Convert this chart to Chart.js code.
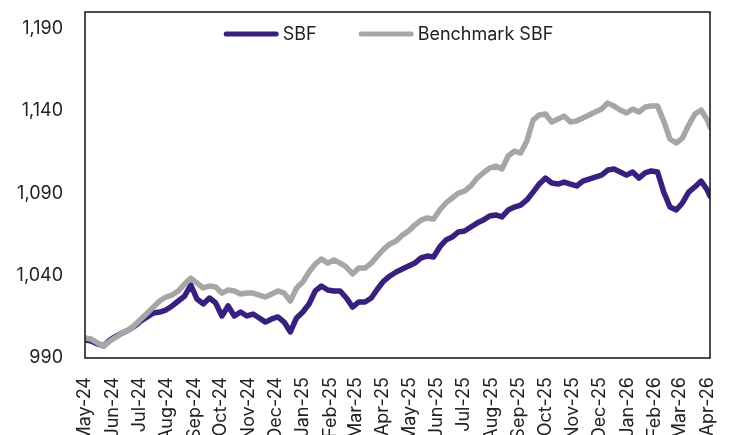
<!DOCTYPE html>
<html>
<head>
<meta charset="utf-8">
<script src="https://cdn.jsdelivr.net/npm/chart.js@4.4.1/dist/chart.umd.min.js"></script>
<style>
  html, body { margin: 0; padding: 0; background: #fff; }
  #wrap { width: 732px; height: 435px; }
</style>
</head>
<body>
<div id="wrap"><canvas id="navChart"></canvas></div>
<script>
// weekly observations starting 1 May 2024, last one on 4 Apr 2026
const startDate = '2024-05-01';
const stepDays = 7;
const lastDate = '2026-04-04';

const monthLabels = ['May-24', 'Jun-24', 'Jul-24', 'Aug-24', 'Sep-24', 'Oct-24', 'Nov-24', 'Dec-24',
  'Jan-25', 'Feb-25', 'Mar-25', 'Apr-25', 'May-25', 'Jun-25', 'Jul-25', 'Aug-25', 'Sep-25',
  'Oct-25', 'Nov-25', 'Dec-25', 'Jan-26', 'Feb-26', 'Mar-26', 'Apr-26'];

const yTicks = [990, 1040, 1090, 1140, 1190];

const sbf = [1000.9, 1000.3, 998.5, 997.3, 1000.9, 1003.3, 1005.2, 1007.0, 1009.4, 1012.5,
  1014.9, 1017.3, 1017.9, 1019.1, 1021.6, 1024.6, 1027.6, 1034.3, 1025.8, 1022.8,
  1026.4, 1023.4, 1015.5, 1021.6, 1015.5, 1017.9, 1015.5, 1016.7, 1014.3, 1011.8,
  1013.7, 1014.9, 1011.8, 1005.8, 1014.3, 1017.9, 1022.8, 1030.7, 1033.7, 1031.3,
  1030.7, 1030.7, 1026.4, 1020.9, 1024.0, 1024.0, 1026.4, 1031.9, 1036.7, 1039.8,
  1042.2, 1044.0, 1045.8, 1047.6, 1050.7, 1051.9, 1051.3, 1057.4, 1061.6, 1063.4,
  1066.5, 1067.1, 1069.5, 1071.9, 1073.7, 1076.2, 1076.8, 1075.6, 1079.8, 1081.6,
  1082.8, 1085.9, 1090.7, 1095.6, 1099.2, 1096.2, 1095.6, 1096.8, 1095.6, 1094.4,
  1097.4, 1098.6, 1099.8, 1101.0, 1104.1, 1104.7, 1102.9, 1101.0, 1102.9, 1099.2,
  1102.3, 1103.5, 1102.9, 1090.7, 1081.6, 1079.8, 1084.1, 1090.7, 1093.8, 1097.4,
  1091.9, 1088.3];

const benchmark = [1002.1, 1001.5, 999.1, 997.3, 1000.3, 1002.7, 1005.2, 1007.0, 1010.0, 1013.7,
  1017.3, 1020.9, 1024.6, 1027.0, 1028.2, 1030.7, 1034.9, 1038.5, 1035.5, 1032.5,
  1033.7, 1033.1, 1029.4, 1031.3, 1030.7, 1028.8, 1029.4, 1029.4, 1028.2, 1027.0,
  1028.8, 1030.7, 1029.4, 1024.6, 1032.5, 1036.1, 1042.2, 1047.0, 1050.1, 1047.6,
  1049.5, 1047.6, 1045.2, 1041.0, 1044.6, 1044.6, 1047.6, 1051.9, 1056.1, 1059.2,
  1061.0, 1064.6, 1067.1, 1070.7, 1073.7, 1075.0, 1074.3, 1079.8, 1084.1, 1087.1,
  1090.1, 1091.3, 1094.4, 1099.2, 1102.3, 1105.3, 1106.5, 1104.7, 1112.6, 1115.6,
  1114.4, 1121.7, 1134.4, 1137.5, 1138.1, 1133.2, 1135.0, 1136.8, 1133.2, 1133.8,
  1135.6, 1137.5, 1139.3, 1141.1, 1144.7, 1142.9, 1140.5, 1138.7, 1141.1, 1139.3,
  1142.3, 1142.9, 1142.9, 1133.8, 1122.9, 1120.5, 1123.5, 1131.4, 1138.1, 1140.5,
  1134.4, 1130.2];

const DAY = 86400000;
const t0 = Date.parse(startDate);
const daysFromStart = d => Math.round((d - t0) / DAY);

// x position of each point, in days since start
const xDays = sbf.map((_, i) => i < sbf.length - 1 ? i * stepDays : daysFromStart(Date.parse(lastDate)));

// first day of every labelled month
const monthDays = monthLabels.map((_, i) => daysFromStart(Date.UTC(2024, 4 + i, 1)));

const toPoints = arr => arr.map((v, i) => ({ x: xDays[i], y: v }));

const FONT = 'Inter, "Noto Sans", sans-serif';

// box round the plot area + legend drawn inside it
const frame = {
  id: 'frame',
  afterDraw(chart) {
    const a = chart.chartArea;
    const ctx = chart.ctx;
    ctx.save();
    ctx.strokeStyle = '#111';
    ctx.lineWidth = 1.5;
    ctx.strokeRect(a.left, a.top, a.right - a.left, a.bottom - a.top);

    // legend
    ctx.font = '18px ' + FONT;
    ctx.textBaseline = 'middle';
    const lineW = 55, gap = 4, itemGap = 42;
    const items = chart.data.datasets.map(ds => ({ text: ds.label, color: ds.borderColor, w: ctx.measureText(ds.label).width }));
    const total = items.reduce((s, it) => s + lineW + gap + it.w, 0) + itemGap * (items.length - 1);
    let x = (a.left + a.right) / 2 - 9 - total / 2;
    const y = a.top + 22;
    items.forEach(it => {
      ctx.strokeStyle = it.color;
      ctx.lineWidth = 5;
      ctx.lineCap = 'round';
      ctx.beginPath();
      ctx.moveTo(x + 2.5, y);
      ctx.lineTo(x + lineW - 2.5, y);
      ctx.stroke();
      ctx.fillStyle = '#222';
      ctx.fillText(it.text, x + lineW + gap, y + 1);
      x += lineW + gap + it.w + itemGap;
    });
    ctx.restore();
  }
};

Chart.defaults.font.family = FONT;
Chart.defaults.color = '#222';

new Chart(document.getElementById('navChart'), {
  type: 'line',
  data: {
    datasets: [{
      label: 'SBF',
      data: toPoints(sbf),
      borderColor: '#38207f',
      backgroundColor: '#38207f',
      borderWidth: 5.5,
      order: 2
    }, {
      label: 'Benchmark SBF',
      data: toPoints(benchmark),
      borderColor: '#a6a6a6',
      backgroundColor: '#a6a6a6',
      borderWidth: 5.5,
      order: 1
    }]
  },
  plugins: [frame],
  options: {
    responsive: true,
    maintainAspectRatio: false,
    animation: false,
    layout: { padding: { top: 12, right: 22, left: 0, bottom: 0 } },
    elements: {
      point: { radius: 0 },
      line: { tension: 0, borderJoinStyle: 'round', borderCapStyle: 'round' }
    },
    plugins: {
      tooltip: { enabled: false },
      legend: { display: false }
    },
    scales: {
      x: {
        type: 'linear',
        min: 0,
        max: 703,
        grid: { display: false, drawTicks: false },
        border: { display: false },
        afterBuildTicks: scale => { scale.ticks = monthDays.map(v => ({ value: v })); },
        afterFit: scale => {
          scale.height = 77;
          scale.paddingLeft = 0;
          scale.paddingRight = 0;
        },
        ticks: {
          autoSkip: false,
          minRotation: 90,
          maxRotation: 90,
          padding: 19,
          font: { size: 18 },
          callback: (value) => monthLabels[monthDays.indexOf(value)]
        }
      },
      y: {
        min: 990,
        max: 1200,
        grid: { display: false, drawTicks: false },
        border: { display: false },
        afterBuildTicks: scale => { scale.ticks = yTicks.map(v => ({ value: v })); },
        afterFit: scale => {
          scale.width = 85;
          scale.paddingTop = 0;
          scale.paddingBottom = 0;
        },
        ticks: {
          padding: 22,
          font: { size: 18 },
          callback: value => value.toLocaleString('en-US')
        }
      }
    }
  }
});
</script>
</body>
</html>
